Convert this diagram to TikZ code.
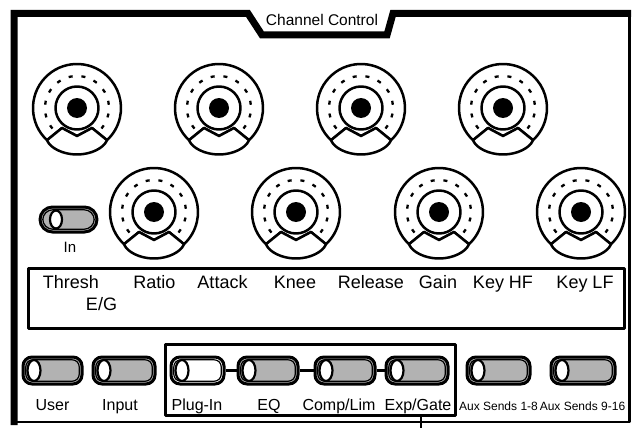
\documentclass[tikz,border=0pt]{standalone}
\usepackage{fontspec}
\setmainfont{Liberation Sans}
\begin{document}
\begin{tikzpicture}[x=1pt,y=-1pt,line join=round]
\useasboundingbox (0,0) rectangle (632,428);
\definecolor{btngray}{RGB}{178,178,178}
\tikzset{
  knob/.pic={
    \draw[line width=2.5pt, fill=white] (133:44) arc[start angle=133,end angle=407,radius=44]
       -- (15,20) -- (0,28) -- (-15,20) -- cycle;
    \draw[line width=2.5pt, fill=white] (133:44) -- (-15,20) -- (0,28) -- (15,20) -- (407:44)
       .. controls (27,40) and (14,46.5) .. (0,46.5) .. controls (-14,46.5) and (-27,40) .. cycle;
    \draw[line width=2.3pt, dash pattern=on 4pt off 8.84pt] (140:32) arc[start angle=140,end angle=400,radius=32];
    \draw[line width=2.5pt] (0,0) circle[radius=21.5];
    \fill (0,0) circle[radius=10];
  },
  btn/.style={draw, line width=3pt, rounded corners=9pt, minimum width=60pt, minimum height=27pt,
    inner sep=0pt, fill=btngray, path picture={
      \draw[line width=1.2pt, rounded corners=7pt] ([shift={(2.8pt,-2.8pt)}]path picture bounding box.north west)
         rectangle ([shift={(-2.8pt,2.8pt)}]path picture bounding box.south east);
      \draw[line width=2.2pt, fill=white] ([xshift=11pt]path picture bounding box.west) ellipse[x radius=6.5pt, y radius=10.5pt];
    }},
  pill/.style={draw, line width=3pt, rounded corners=12.5pt, minimum width=57pt, minimum height=25pt,
    inner sep=0pt, fill=btngray, path picture={
      \draw[line width=1.2pt, rounded corners=10pt] ([shift={(2.8pt,-2.8pt)}]path picture bounding box.north west)
         rectangle ([shift={(-2.8pt,2.8pt)}]path picture bounding box.south east);
      \draw[line width=2.2pt, fill=white] ([xshift=16pt]path picture bounding box.west) ellipse[x radius=6pt, y radius=9pt];
    }},
  lbl/.style={font=\fontsize{18}{20}\selectfont, anchor=base, inner sep=0pt},
  btnlbl/.style={font=\fontsize{16}{18}\selectfont, anchor=base, inner sep=0pt},
  auxlbl/.style={font=\fontsize{12}{14}\selectfont, anchor=base, inner sep=0pt},
  link/.style={line width=2.6pt}
}
% outer frame
\draw[line width=7pt, line join=miter] (14,425) -- (14,13.5) -- (248,13.5) -- (262,35) -- (387,35) -- (393,13.5) -- (631,13.5);
\draw[line width=2.5pt] (629.5,14) -- (629.5,422) -- (15,422);
\node[font=\fontsize{15.5}{17}\selectfont, anchor=base, inner sep=0pt] (title) at (322,25.5) {Channel Control};
% knobs
\foreach \x in {77,219,361,503} { \pic at (\x,108) {knob}; }
\foreach \x in {154,296,439,581} { \pic at (\x,212) {knob}; }
% In toggle
\node[pill] (inbtn) at (68.5,219.5) {};
\node[font=\fontsize{15}{17}\selectfont, anchor=base, inner sep=0pt] (inlbl) at (70,252) {In};
% label box
\node[draw, line width=3pt, minimum width=596pt, minimum height=60.5pt, inner sep=0pt] (lblbox) at (326.5,298.25) {};
\node[lbl] (l1) at (71,288) {Thresh};
\node[lbl] (l1b) at (101.5,310) {E/G};
\node[lbl] (l2) at (154.5,288) {Ratio};
\node[lbl] (l3) at (222.5,288) {Attack};
\node[lbl] (l4) at (295,288) {Knee};
\node[lbl] (l5) at (371,288) {Release};
\node[lbl] (l6) at (438,288) {Gain};
\node[lbl] (l7) at (503,288) {Key HF};
\node[lbl] (l8) at (585,288) {Key LF};
% group box
\node[draw, line width=3pt, minimum width=290pt, minimum height=71.5pt, inner sep=0pt] (grp) at (310.5,379.75) {};
\coordinate (ptr) at (421,428);
\draw[line width=2pt] (grp.south -| ptr) -- (ptr);
% buttons
\node[btn, minimum width=59pt] (user) at (52.5,370.5) {};
\node[btn, minimum width=62pt] (input) at (124,370.5) {};
\node[btn, minimum width=53pt, fill=white] (plugin) at (197.5,370.5) {};
\node[btn] (eq) at (268,370.5) {};
\node[btn] (comp) at (345,370.5) {};
\node[btn, minimum width=62pt] (exp) at (417,370.5) {};
\node[btn, minimum width=63pt] (aux1) at (498.5,370.5) {};
\node[btn, minimum width=64pt] (aux2) at (583,370.5) {};
\draw[link] (plugin) -- (eq);
\draw[link] (eq) -- (comp);
\draw[link] (comp) -- (exp);
% button labels
\node[btnlbl] (tuser) at (52.5,410) {User};
\node[btnlbl] (tinput) at (120,410) {Input};
\node[btnlbl] (tplugin) at (197,410) {Plug-In};
\node[btnlbl] (teq) at (269,410) {EQ};
\node[btnlbl] (tcomp) at (339,410) {Comp/Lim};
\node[btnlbl] (texp) at (418,410) {Exp/Gate};
\node[auxlbl] (taux1) at (498.5,410) {Aux Sends 1-8};
\node[auxlbl] (taux2) at (582.5,410) {Aux Sends 9-16};
\end{tikzpicture}
\end{document}
